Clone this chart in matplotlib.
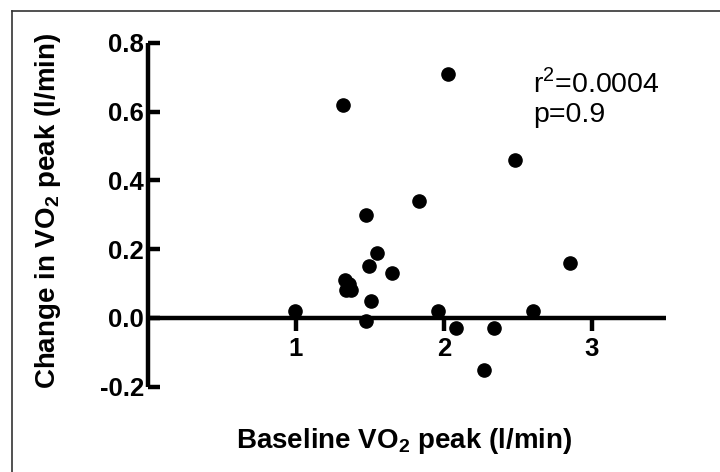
import matplotlib
matplotlib.use("Agg")
from matplotlib import pyplot as plt
from matplotlib.lines import Line2D

plt.rcParams["font.family"] = ["Liberation Sans", "DejaVu Sans"]
plt.rcParams["mathtext.fontset"] = "custom"
plt.rcParams["mathtext.rm"] = "Liberation Sans"
plt.rcParams["mathtext.bf"] = "Liberation Sans:bold"

# baseline VO2 peak (l/min) and change in VO2 peak (l/min)
baseline_vo2 = [2.03, 1.32, 2.48, 1.83, 1.47, 1.55, 1.49, 1.65, 2.85,
                1.33, 1.36, 1.34, 1.37, 1.51, 0.99, 1.47, 1.96, 2.08,
                2.34, 2.60, 2.27]
change_vo2 = [0.71, 0.62, 0.46, 0.34, 0.30, 0.19, 0.15, 0.13, 0.16,
              0.11, 0.10, 0.08, 0.08, 0.05, 0.02, -0.01, 0.02, -0.03,
              -0.03, 0.02, -0.15]

x_ticks = [1, 2, 3]
y_ticks = [-0.2, 0.0, 0.2, 0.4, 0.6, 0.8]
y_ticklabels = ["-0.2", "0.0", "0.2", "0.4", "0.6", "0.8"]

fig = plt.figure(figsize=(7.2, 4.72), dpi=100)
ax = fig.add_axes([0.2056, 0.1807, 0.7194, 0.7288])

ax.plot(baseline_vo2, change_vo2, "o", color="black", markersize=9.5,
        clip_on=False, zorder=3)

ax.set_xlim(0, 3.5)
ax.set_ylim(-0.2, 0.8)

ax.spines["top"].set_visible(False)
ax.spines["right"].set_visible(False)
ax.spines["bottom"].set_position(("data", 0))
for s in ("left", "bottom"):
    ax.spines[s].set_linewidth(3.2)
    ax.spines[s].set_capstyle("butt")

ax.set_xticks(x_ticks)
ax.set_xticklabels([str(t) for t in x_ticks])
ax.set_yticks(y_ticks)
ax.set_yticklabels(y_ticklabels)
ax.tick_params(axis="y", direction="in", length=8.5, width=3.2, pad=3,
               labelsize=18.5)
ax.tick_params(axis="x", direction="out", length=9.5, width=3.2, pad=4,
               labelsize=18.5)
for lab in ax.get_xticklabels() + ax.get_yticklabels():
    lab.set_fontweight("bold")

fig.text(0.066, 0.553, r"Change in VO$_\mathbf{2}$ peak (l/min)", rotation=90,
         ha="center", va="center", fontsize=20, fontweight="bold")
fig.text(0.562, 0.051, r"Baseline VO$_\mathbf{2}$ peak (l/min)",
         ha="center", va="baseline", fontsize=20, fontweight="bold")

ax.text(2.60, 0.656, "r$^\\mathrm{2}$=0.0004", ha="left", va="baseline",
        fontsize=20.5)
ax.text(2.60, 0.569, "p=0.9", ha="left", va="baseline", fontsize=20.5)

# frame around the figure (left and top edges only visible)
fig.add_artist(Line2D([12 / 720, 12 / 720], [0, 1 - 11 / 472],
                      transform=fig.transFigure, color="#333333", lw=1.2))
fig.add_artist(Line2D([12 / 720, 1], [1 - 11 / 472, 1 - 11 / 472],
                      transform=fig.transFigure, color="#333333", lw=1.2))

fig.savefig("out.png", dpi=100)
plt.close(fig)
